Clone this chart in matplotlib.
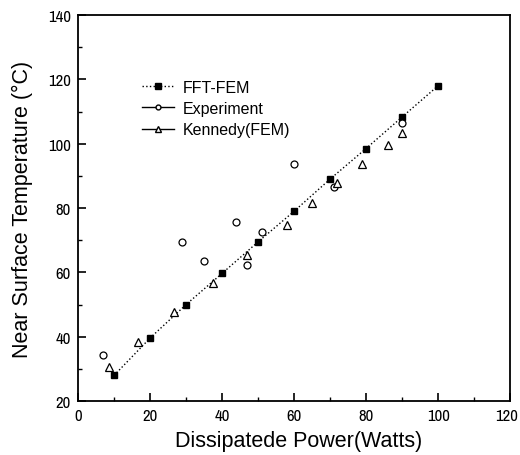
import matplotlib
matplotlib.use("Agg")
import matplotlib.pyplot as plt
from matplotlib.lines import Line2D
from matplotlib.ticker import MultipleLocator, FuncFormatter
from matplotlib.transforms import offset_copy

# data
fft_x = [10, 20, 30, 40, 50, 60, 70, 80, 90, 100]
fft_y = [28, 39.6, 50, 59.7, 69.5, 79, 89, 98.5, 108.3, 118]
exp_x = [7, 29, 35, 44, 47, 51, 60, 71, 90]
exp_y = [34.3, 69.5, 63.5, 75.7, 62.4, 72.6, 93.7, 86.5, 106.5]
ken_x = [8.6, 16.7, 26.7, 37.5, 47, 58, 65, 72, 79, 86, 90]
ken_y = [30.6, 38.4, 47.7, 56.7, 65.4, 74.6, 81.5, 87.8, 93.7, 99.6, 103.4]
legend_labels = ['FFT-FEM', 'Experiment', 'Kennedy(FEM)']
x_max = 120

plt.rcParams['font.family'] = ['Liberation Sans', 'DejaVu Sans']
# narrow bold digits like the scanned figure
tick_font = ['Liberation Sans Narrow', 'Arial Narrow', 'Archivo Narrow', 'DejaVu Sans']

fig = plt.figure(figsize=(5.2, 4.56), dpi=100)
ax = fig.add_axes([0.15, 0.118, 0.831, 0.847])

ax.plot(fft_x, fft_y, ls=':', color='black', lw=1, marker='s', ms=5,
        mfc='black', mec='black')
ax.plot(exp_x, exp_y, ls='none', marker='o', ms=5, mfc='white',
        mec='black', mew=0.9)
ax.plot(ken_x, ken_y, ls='none', marker='^', ms=5.5, mfc='white',
        mec='black', mew=0.9)

ax.set_xlim(0, x_max)
ax.set_ylim(20, 140)
ax.xaxis.set_major_locator(MultipleLocator(20))
ax.xaxis.set_minor_locator(MultipleLocator(10))
ax.yaxis.set_major_locator(MultipleLocator(20))
ax.yaxis.set_minor_locator(MultipleLocator(10))
# last x label is drawn separately so it stays inside the canvas
ax.xaxis.set_major_formatter(FuncFormatter(lambda v, p: '' if v >= x_max else f'{v:.0f}'))
ax.tick_params(which='major', direction='in', length=6, width=1.2, pad=5)
ax.tick_params(which='minor', direction='in', length=3, width=1)
for lab in ax.get_xticklabels() + ax.get_yticklabels():
    lab.set_family(tick_font)
    lab.set_fontweight('bold')
    lab.set_fontsize(12)
for s in ax.spines.values():
    s.set_linewidth(1.3)

ax.text(1.0, 0.0, f'{x_max}', transform=offset_copy(ax.transAxes, fig, x=8, y=-7, units='dots'),
        ha='right', va='top', family=tick_font, fontweight='bold', fontsize=12)

ax.set_xlabel('Dissipatede Power(Watts)', fontsize=15.5)
ax.set_ylabel('Near Surface Temperature (\u00b0C)', fontsize=15.5)
ax.xaxis.set_label_coords(0.51, -0.075)
ax.yaxis.set_label_coords(-0.105, 0.5)

handles = [
    Line2D([], [], ls=':', color='black', lw=1, marker='s', ms=4, mfc='black'),
    Line2D([], [], ls='-', color='black', lw=1, marker='o', ms=3.5, mfc='white'),
    Line2D([], [], ls='-', color='black', lw=1, marker='^', ms=4, mfc='white'),
]
ax.legend(handles, legend_labels,
          loc='upper left', bbox_to_anchor=(0.114, 0.87), frameon=False,
          fontsize=11.5, handlelength=2, handletextpad=0.6, labelspacing=0.4)

fig.savefig('out.png', dpi=100)
